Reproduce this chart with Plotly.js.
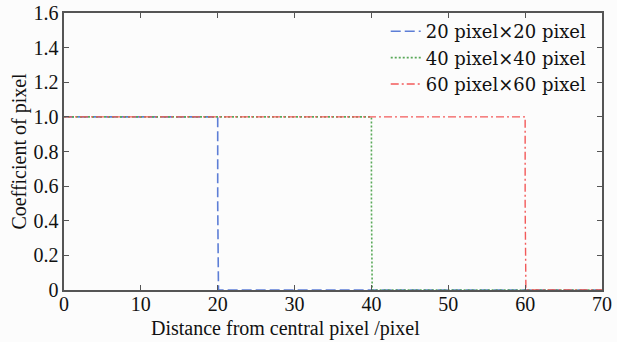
<!DOCTYPE html>
<html><head><meta charset="utf-8">
<script src="https://cdn.plot.ly/plotly-3.0.1.min.js"></script>
<style>html,body{margin:0;padding:0;background:#fff;}#c{width:617px;height:342px;}</style>
</head><body><div id="c"></div>
<script>
const names = ["20 pixel\u00d720 pixel", "40 pixel\u00d740 pixel", "60 pixel\u00d760 pixel"];
const x20 = [0, 20, 20, 20.1, 70];
const y20 = [1, 1, 0.5, 0, 0];
const x40 = [0, 40, 40, 40.1, 70];
const y40 = [1, 1, 0.5, 0, 0];
const x60 = [0, 60, 60, 60.1, 70];
const y60 = [1, 1, 0.5, 0, 0];
const yTicks = [0, 0.2, 0.4, 0.6, 0.8, 1.0, 1.2, 1.4, 1.6];
const yTickText = ["0", "0.2", "0.4", "0.6", "0.8", "1.0", "1.2", "1.4", "1.6"];
const xTicks = [0, 10, 20, 30, 40, 50, 60, 70];
const xTitle = "Distance from central pixel /pixel";
const yTitle = "Coefficient of pixel";

const serif = "Liberation Serif, DejaVu Serif, serif";
const font = {family: serif, color: "#111"};
const traces = [
  {x: x20, y: y20, name: names[0], mode: "lines", line: {color: "#5d7ed6", dash: "10px,4px", width: 1.6}},
  {x: x40, y: y40, name: names[1], mode: "lines", line: {color: "#58a858", dash: "2px,2px", width: 1.6}},
  {x: x60, y: y60, name: names[2], mode: "lines", line: {color: "#f25a5a", dash: "8px,3px,2px,3px", width: 1.4}}
];
const axisCommon = {showline: true, mirror: "ticks", linecolor: "#555", linewidth: 1.6,
  ticks: "inside", ticklen: 5, tickcolor: "#555", showgrid: false, zeroline: false,
  tickfont: Object.assign({size: 20}, font)};
const layout = {
  width: 617, height: 342,
  margin: {l: 64, r: 15, t: 13, b: 52},
  paper_bgcolor: "#fcfcfc", plot_bgcolor: "#fcfcfc",
  font: font,
  showlegend: true,
  legend: {x: 0.598, y: 1.0, xanchor: "left", yanchor: "top", bgcolor: "rgba(0,0,0,0)",
    font: {family: "DejaVu Serif, serif", size: 18, color: "#111"}, tracegroupgap: 0},
  xaxis: Object.assign({}, axisCommon, {range: [0, 70], tickvals: xTicks, ticklabelstandoff: -5}),
  yaxis: Object.assign({}, axisCommon, {range: [0, 1.6], tickvals: yTicks, ticktext: yTickText,
    title: {text: yTitle, font: Object.assign({size: 20}, font), standoff: 1}}),
  annotations: [{text: xTitle, xref: "paper", yref: "paper", x: 0.4126, y: -0.138,
    xanchor: "center", yanchor: "middle", showarrow: false, font: Object.assign({size: 20}, font)}]
};
Plotly.newPlot("c", traces, layout, {displayModeBar: false, staticPlot: true});
</script></body></html>
